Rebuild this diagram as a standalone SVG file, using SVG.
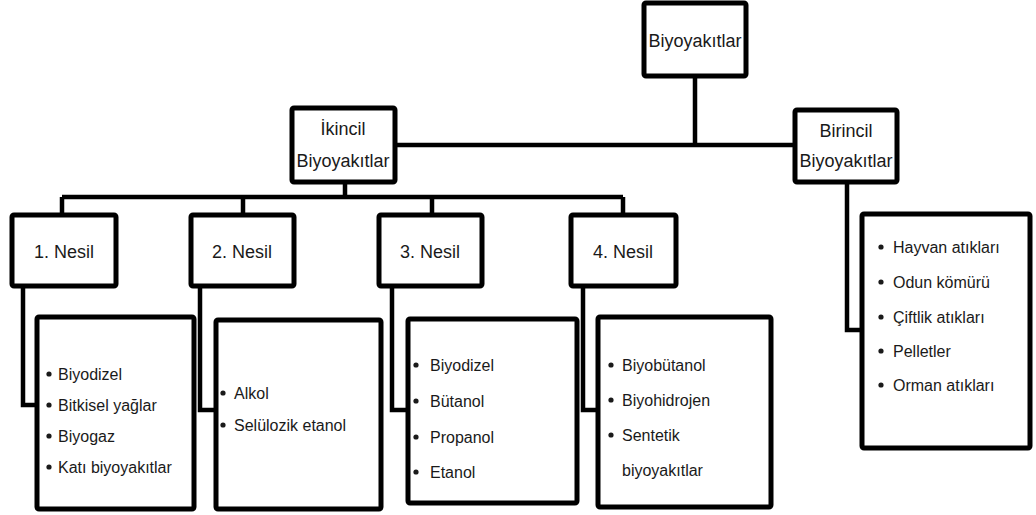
<svg xmlns="http://www.w3.org/2000/svg" width="1036" height="515" viewBox="0 0 1036 515">
<style>
.box{fill:#fff;stroke:#000;stroke-width:5}
.ln{fill:none;stroke:#000;stroke-width:4.5;stroke-linejoin:miter}
.t{font-family:"Liberation Sans",Arial,sans-serif;font-size:18px;fill:#1a1a1a}
.c{text-anchor:middle}
.li{font-family:"Liberation Sans",Arial,sans-serif;font-size:16px;fill:#1a1a1a}
.b{fill:#1a1a1a}
</style>
<rect width="1036" height="515" fill="#fff"/>
<g id="connectors">
<path class="ln" d="M695,76 V145 M395,145 H793"/>
<path class="ln" d="M345,182 V197 M62,197 H623 M62,197 V213 M243,197 V213 M432,197 V213 M623,197 V213"/>
<path class="ln" d="M23,286 V405 H37"/>
<path class="ln" d="M200,286 V410 H215"/>
<path class="ln" d="M392,286 V410 H408"/>
<path class="ln" d="M583,286 V410 H597"/>
<path class="ln" d="M847,182 V330 H862"/>
</g>
<g id="root"><rect class="box" x="644" y="3" width="102" height="73" rx="2"/><text class="t c" x="695" y="47">Biyoyakıtlar</text></g>
<g id="ikincil"><rect class="box" x="292" y="108" width="103" height="74" rx="2"/><text class="t c" x="343" y="135">İkincil</text><text class="t c" x="343" y="167">Biyoyakıtlar</text></g>
<g id="birincil"><rect class="box" x="795" y="110" width="102" height="72" rx="2"/><text class="t c" x="846" y="137">Birincil</text><text class="t c" x="846" y="167">Biyoyakıtlar</text></g>
<g id="nesil1"><rect class="box" x="12" y="215" width="104" height="71" rx="2"/><text class="t c" x="64" y="258">1. Nesil</text></g>
<g id="nesil2"><rect class="box" x="191" y="215" width="103" height="71" rx="2"/><text class="t c" x="242" y="258">2. Nesil</text></g>
<g id="nesil3"><rect class="box" x="379" y="215" width="103" height="71" rx="2"/><text class="t c" x="430" y="258">3. Nesil</text></g>
<g id="nesil4"><rect class="box" x="571" y="215" width="105" height="71" rx="2"/><text class="t c" x="623" y="258">4. Nesil</text></g>
<g id="list1"><rect class="box" x="37" y="317" width="157" height="192" rx="2"/>
<circle class="b" cx="49" cy="374" r="2.6"/><text class="li" x="58" y="380">Biyodizel</text>
<circle class="b" cx="49" cy="405" r="2.6"/><text class="li" x="58" y="411">Bitkisel yağlar</text>
<circle class="b" cx="49" cy="436" r="2.6"/><text class="li" x="58" y="442">Biyogaz</text>
<circle class="b" cx="49" cy="467" r="2.6"/><text class="li" x="58" y="473">Katı biyoyakıtlar</text></g>
<g id="list2"><rect class="box" x="216" y="320" width="165" height="189" rx="2"/>
<circle class="b" cx="223" cy="393" r="2.6"/><text class="li" x="234" y="399">Alkol</text>
<circle class="b" cx="223" cy="425" r="2.6"/><text class="li" x="234" y="431">Selülozik etanol</text></g>
<g id="list3"><rect class="box" x="408" y="319" width="169" height="184" rx="2"/>
<circle class="b" cx="416" cy="365" r="2.6"/><text class="li" x="430" y="371">Biyodizel</text>
<circle class="b" cx="416" cy="401" r="2.6"/><text class="li" x="430" y="407">Bütanol</text>
<circle class="b" cx="416" cy="437" r="2.6"/><text class="li" x="430" y="443">Propanol</text>
<circle class="b" cx="416" cy="472" r="2.6"/><text class="li" x="430" y="478">Etanol</text></g>
<g id="list4"><rect class="box" x="598" y="317" width="173" height="190" rx="2"/>
<circle class="b" cx="611" cy="365" r="2.6"/><text class="li" x="622" y="371">Biyobütanol</text>
<circle class="b" cx="611" cy="400" r="2.6"/><text class="li" x="622" y="406">Biyohidrojen</text>
<circle class="b" cx="611" cy="435" r="2.6"/><text class="li" x="622" y="441">Sentetik</text>
<text class="li" x="622" y="476">biyoyakıtlar</text></g>
<g id="list5"><rect class="box" x="862" y="214" width="168" height="234" rx="2"/>
<circle class="b" cx="881" cy="247" r="2.6"/><text class="li" x="893" y="253">Hayvan atıkları</text>
<circle class="b" cx="881" cy="282" r="2.6"/><text class="li" x="893" y="288">Odun kömürü</text>
<circle class="b" cx="881" cy="317" r="2.6"/><text class="li" x="893" y="323">Çiftlik atıkları</text>
<circle class="b" cx="881" cy="351" r="2.6"/><text class="li" x="893" y="357">Pelletler</text>
<circle class="b" cx="881" cy="385" r="2.6"/><text class="li" x="893" y="391">Orman atıkları</text></g>
</svg>
